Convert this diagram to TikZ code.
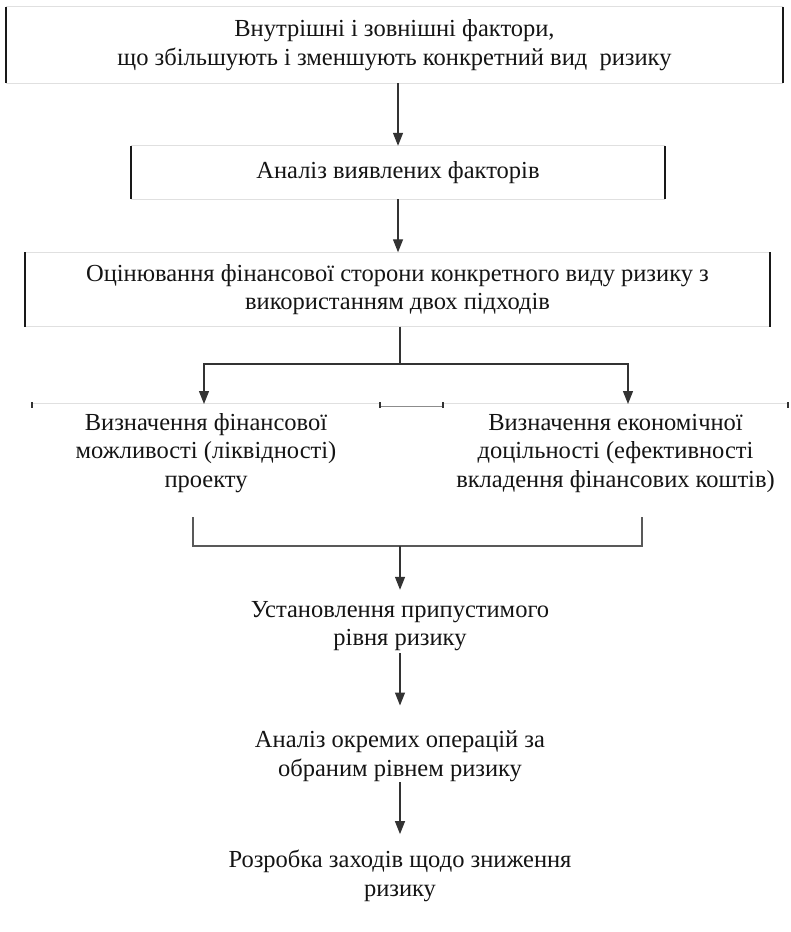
\documentclass[tikz,border=0pt]{standalone}
\usepackage{fontspec}
\setmainfont{Liberation Serif}
\usetikzlibrary{arrows.meta}
\begin{document}
\begin{tikzpicture}[x=1pt,y=-1pt,
 txt/.style={align=center,inner sep=0pt,font=\fontsize{24.5}{28.5}\selectfont,text=black!92},
 sideln/.style={line width=1.8pt,black!90},
 faint/.style={line width=0.8pt,black!12},
 conn/.style={line width=1.3pt,black!80},
 arr/.style={-{Triangle[width=10pt,length=13pt]}},
 brk/.style={line width=1.4pt,black!65},
 tickln/.style={line width=1.6pt,black!80}]
\useasboundingbox (0,0) rectangle (791,932);

% boxes
\node[txt,minimum width=777pt,minimum height=76pt] (b1) at (394.5,45)
  {Внутрішні і зовнішні фактори,\\що збільшують і зменшують конкретний вид\ \ ризику};
\node[txt,minimum width=534pt,minimum height=53pt] (b2) at (398,172.5)
  {Аналіз виявлених факторів};
\node[txt,minimum width=745pt,minimum height=74pt] (b3) at (397.5,289.5)
  {Оцінювання фінансової сторони конкретного виду ризику з\\використанням двох підходів};

\foreach \b in {b1,b2,b3}{
  \draw[faint] (\b.north west) -- (\b.north east) (\b.south west) -- (\b.south east);
  \draw[sideln] (\b.north west) -- (\b.south west) (\b.north east) -- (\b.south east);
}

% row 4
\node[txt,minimum width=348pt,minimum height=98pt] (lb) at (206,453)
  {Визначення фінансової\\можливості (ліквідності)\\проекту};
\node[txt,minimum width=345pt,minimum height=98pt] (rb) at (615.5,453)
  {Визначення економічної\\доцільності (ефективності\\вкладення фінансових коштів)};
\draw[faint] (lb.north west) -- (lb.north east) (rb.north west) -- (rb.north east);
\draw[line width=1pt,black!45] ([yshift=-3pt]lb.north east) -- ([yshift=-3pt]rb.north west);
\foreach \a in {lb.north west,lb.north east,rb.north west,rb.north east}{
  \draw[tickln] ([yshift=1.5pt]\a) -- ++(0,6);
}

% lower texts
\node[txt,minimum height=50pt] (n5) at (400,626) {Установлення припустимого\\рівня ризику};
\node[txt,minimum height=50pt] (n6) at (400,756) {Аналіз окремих операцій за\\обраним рівнем ризику};
\node[txt,minimum height=50pt] (n7) at (400,876) {Розробка заходів щодо зниження\\ризику};

% connectors
\draw[conn,arr] (b1.south -| b2.north) -- (b2.north);
\draw[conn,arr] (b2.south) -- (b2.south |- b3.north);
\coordinate (j) at (400,364);
\coordinate (ltop) at (204,404);
\coordinate (rtop) at (628,404);
\draw[conn] (b3.south -| j) -- (j);
\draw[conn,arr] (j) -| (ltop);
\draw[conn,arr] (j) -| (rtop);

\coordinate (k1) at (193,517);
\coordinate (k2) at (642,517);
\coordinate (m) at (400,546);
\draw[brk] (k1) |- (m) -| (k2);
\draw[conn,arr,shorten >=11pt] (m) -- (n5.north);
\draw[conn,arr,shorten <=2pt,shorten >=25pt] (n5.south) -- (n6.north);
\draw[conn,arr,shorten <=1pt,shorten >=16pt] (n6.south) -- (n7.north);
\end{tikzpicture}
\end{document}
